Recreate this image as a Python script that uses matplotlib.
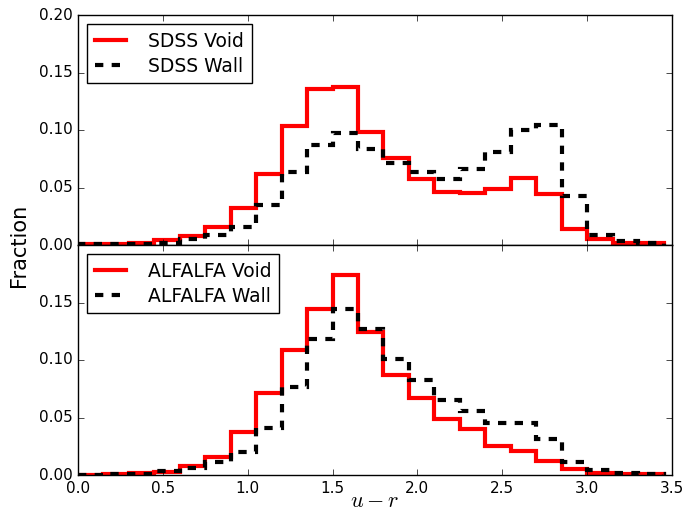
import matplotlib
matplotlib.use("Agg")
import matplotlib.pyplot as plt
import numpy as np

plt.style.use('classic')
plt.rcParams['font.family'] = ['DejaVu Sans']
plt.rcParams['mathtext.fontset'] = 'cm'
plt.rcParams['lines.scale_dashes'] = False

bin_edges = [0.0, 0.15, 0.3, 0.45, 0.6, 0.75, 0.9, 1.05, 1.2, 1.35, 1.5, 1.65,
             1.8, 1.95, 2.1, 2.25, 2.4, 2.55, 2.7, 2.85, 3.0, 3.15, 3.3, 3.45]

sdss_void = [0.001, 0.001, 0.002, 0.004, 0.008, 0.0157, 0.032, 0.0615, 0.1035,
             0.1354, 0.1377, 0.098, 0.0754, 0.0574, 0.0464, 0.045, 0.0487, 0.058,
             0.0443, 0.0139, 0.0052, 0.002, 0.0017]
sdss_wall = [0.0005, 0.001, 0.001, 0.002, 0.005, 0.0084, 0.016, 0.0348, 0.0637,
             0.087, 0.0977, 0.0835, 0.071, 0.0635, 0.057, 0.0658, 0.081, 0.100,
             0.1046, 0.0426, 0.0084, 0.0037, 0.0017]
alfalfa_void = [0.0003, 0.001, 0.0015, 0.003, 0.0081, 0.016, 0.0373, 0.0713, 0.1083,
                0.1447, 0.174, 0.1243, 0.0873, 0.067, 0.0486, 0.0399, 0.0253, 0.0212,
                0.0125, 0.005, 0.0015, 0.001, 0.0007]
alfalfa_wall = [0.0003, 0.0005, 0.001, 0.0035, 0.0058, 0.011, 0.0198, 0.0413, 0.0766,
                0.1185, 0.1447, 0.1272, 0.101, 0.083, 0.0655, 0.056, 0.0451, 0.0451,
                0.0314, 0.0116, 0.0044, 0.0015, 0.0007]

top_labels = ["SDSS Void", "SDSS Wall"]
bottom_labels = ["ALFALFA Void", "ALFALFA Wall"]
x_ticks = [0.0, 0.5, 1.0, 1.5, 2.0, 2.5, 3.0, 3.5]

fig = plt.figure(figsize=(6.85, 5.12), dpi=100, facecolor='white')
L, R, T, B = 78/685, 672/685, 1 - 15/512, 1 - 475/512
H = (T - B) / 2
ax1 = fig.add_axes([L, B + H, R - L, H])
ax2 = fig.add_axes([L, B, R - L, H], sharex=ax1)

def panel(ax, void, wall, labels, yticks):
    ax.stairs(void, bin_edges, baseline=0, color='red', lw=3, label=labels[0])
    ax.stairs(wall, bin_edges, baseline=0, color='black', lw=3,
              linestyle=(0, (6, 6)), label=labels[1])
    ax.set_xlim(0, 3.5)
    ax.set_ylim(0, 0.2)
    ax.set_yticks(yticks)
    ax.set_yticklabels(["%.2f" % t for t in yticks])
    ax.tick_params(labelsize=11, direction='in')
    leg = ax.legend(loc='upper left', fontsize=13.5, handlelength=1.65,
                    handletextpad=1.2, borderpad=0.4, labelspacing=0.3,
                    fancybox=False, frameon=True)
    leg.get_frame().set_edgecolor('black')

panel(ax1, sdss_void, sdss_wall, top_labels, [0.0, 0.05, 0.10, 0.15, 0.20])
panel(ax2, alfalfa_void, alfalfa_wall, bottom_labels, [0.0, 0.05, 0.10, 0.15])
ax2.set_xticks(x_ticks)
ax2.set_xticklabels(["%.1f" % t for t in x_ticks])
plt.setp(ax1.get_xticklabels(), visible=False)
ax2.set_xlabel(r'$u-r$', fontsize=16, labelpad=-3)
fig.text(0.028, 1 - 245/512, 'Fraction', rotation=90, ha='center', va='center', fontsize=15)

fig.savefig('out.png', dpi=100, facecolor='white')
